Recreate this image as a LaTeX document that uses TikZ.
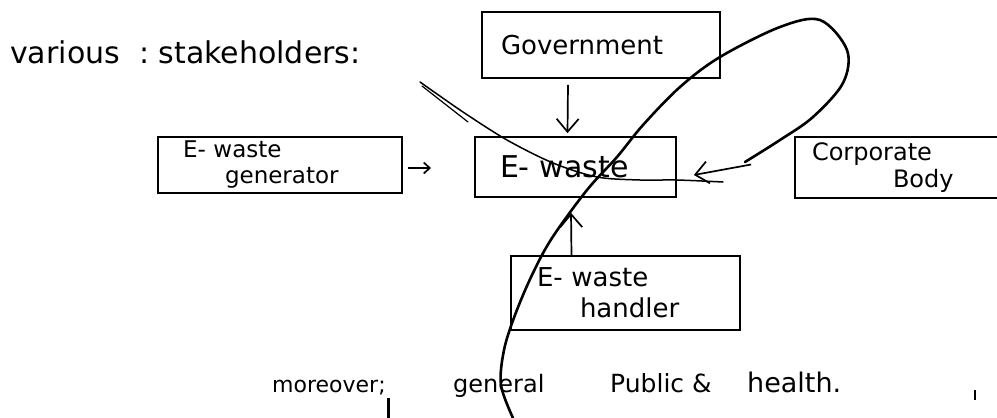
\documentclass[tikz,border=0pt]{standalone}
\usepackage{fontspec}
\setmainfont{DejaVu Sans}
\usetikzlibrary{arrows.meta}
\begin{document}
\begin{tikzpicture}[x=1pt,y=-1pt,
  box/.style={draw, line width=1.7pt, inner sep=0pt, align=left},
  txt/.style={inner sep=0pt, anchor=base west},
  conn/.style={line width=1.7pt},
  barb/.style={-{Straight Barb[length=13pt,width=22pt,line width=1.7pt]}},
  smallbarb/.style={-{Straight Barb[length=6pt,width=11pt,line width=1.7pt]}}
]
\fill[white] (0,0) rectangle (997,418);
\path[use as bounding box] (0,0) rectangle (997,418);

% heading
\node[txt, font=\fontsize{30}{32}\selectfont] (head) at (10,63) {various\ \ :\ stakeholders:};

% boxes
\node[box, text width=238pt, minimum height=66pt, font=\fontsize{26}{28}\selectfont] (gov) at (601,45)
  {\hspace*{19pt}Government};
\node[box, text width=244pt, minimum height=56pt, font=\fontsize{23}{25}\selectfont] (gen) at (280,165)
  {\hspace*{25pt}E- waste\\[1pt]\hspace*{67pt}generator};
\node[box, text width=201pt, minimum height=60pt, font=\fontsize{30}{32}\selectfont] (ew) at (575.5,167)
  {\hspace*{25pt}E- waste};
\node[box, text width=207pt, minimum height=61pt, font=\fontsize{24}{26}\selectfont] (corp) at (898.5,167.5)
  {\hspace*{17pt}Corporate\\[1pt]\hspace*{98pt}Body};
\node[box, text width=229pt, minimum height=74pt, font=\fontsize{26}{29}\selectfont] (hand) at (625.5,293)
  {\hspace*{26pt}E- waste\\[2pt]\hspace*{69pt}handler};

% bottom line of text
\node[txt, font=\fontsize{22}{24}\selectfont] (t1) at (272,392) {moreover;};
\node[txt, font=\fontsize{24}{26}\selectfont] (t2) at (453,392) {general};
\node[txt, font=\fontsize{25}{27}\selectfont] (t3) at (610,392) {Public \&};
\node[txt, font=\fontsize{27}{29}\selectfont] (t4) at (747,392) {health.};

% connectors
\coordinate (genTip) at (431,168);
\draw[conn, smallbarb] ([shift={(5,3)}]gen.east) -- (genTip);
\draw[conn, barb] ([shift={(-33,6)}]gov.south) -- ([shift={(-8,-3)}]ew.north);
\draw[conn, barb] ([xshift=-54]hand.north) -- ([shift={(-4.5,15)}]ew.south);
\draw[conn, barb] ([shift={(-43,-3)}]corp.west) -- ([shift={(17,8)}]ew.east);

% big loop
\draw[line width=2.6pt, line cap=round] plot[smooth, tension=0.55] coordinates {
  (513,418) (501,385) (504,350) (515,315) (532,275) (552,238) (587,190)
  (617,157) (643,125) (680,87) (720,57) (780,27) (820,20) (847,50)
  (843,83) (813,117) (780,140) (745,162)};

% thin crossing curve
\draw[line width=1.5pt, line cap=round] plot[smooth, tension=0.5] coordinates {
  (420,82) (463,112) (507,140) (553,163) (597,177) (640,180) (677,180) (723,182)};
\draw[line width=1.2pt, line cap=round] plot[smooth] coordinates {
  (422,86) (445,104) (468,122)};

% scribble marks
\draw[line width=3pt] (388,398) -- (388,418);
\draw[line width=1.5pt] (975,390) -- (975,400);
\end{tikzpicture}
\end{document}
